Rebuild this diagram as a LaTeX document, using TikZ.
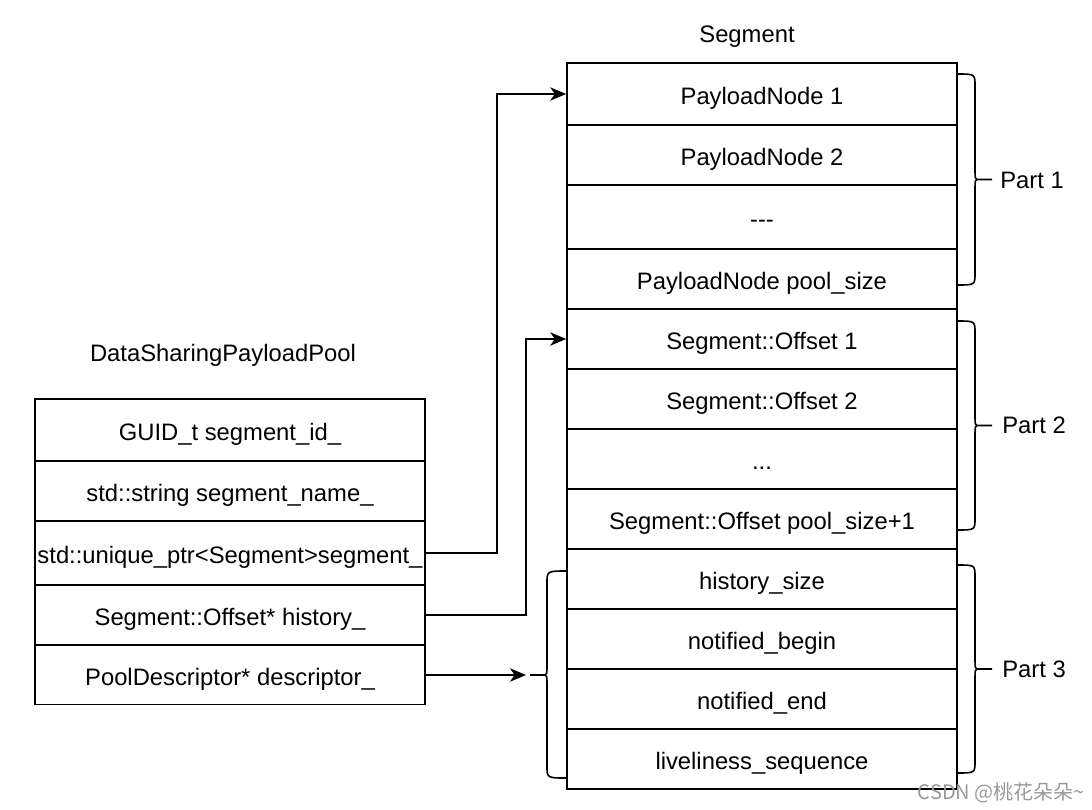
\documentclass[tikz,border=0pt]{standalone}
\usepackage{fontspec}
\setmainfont{Liberation Sans}
\newfontfamily\cjkfont{Noto Sans CJK SC}
\usetikzlibrary{arrows.meta}
\tikzset{
  cell/.style={draw, line width=1.2pt, minimum width=292.5pt, inner sep=0pt, text height=16.2pt, text depth=0pt, font=\fontsize{17.85}{21}\selectfont},
  title/.style={font=\fontsize{17.85}{21}\selectfont, inner sep=0pt, anchor=base},
  lbl/.style={font=\fontsize{17.85}{21}\selectfont, anchor=base west, inner sep=0pt},
  arr/.style={line width=1.2pt, -{Stealth[length=12pt,width=10pt,inset=3.5pt]}},
  brace/.style={line width=1.2pt}
}
\newcommand{\BraceRt}[4]{% x0, ytop, ybot, ymid
  \draw[brace] (#1,#2) .. controls ({#1+18},#2) .. ({#1+18},{#2+12}) -- ({#1+18},{#4-12}) .. controls ({#1+18},#4) .. ({#1+22},#4) -- ({#1+35},#4)
    ({#1+22},#4) .. controls ({#1+18},#4) .. ({#1+18},{#4+12}) -- ({#1+18},{#3-12}) .. controls ({#1+18},#3) .. (#1,#3);}
\newcommand{\BraceLt}[4]{% x0, ytop, ybot, ymid
  \draw[brace] (#1,#2) .. controls ({#1-20},#2) .. ({#1-20},{#2+12}) -- ({#1-20},{#4-12}) .. controls ({#1-20},#4) .. ({#1-24},#4) -- ({#1-37},#4)
    ({#1-24},#4) .. controls ({#1-20},#4) .. ({#1-20},{#4+12}) -- ({#1-20},{#3-12}) .. controls ({#1-20},#3) .. (#1,#3);}
\begin{document}
\begin{tikzpicture}[x=0.75pt, y=-0.75pt]
\useasboundingbox (0,0) rectangle (1092,810);
% titles
\node[title] (segtitle) at (747,42.5) {Segment};
\node[title] (pooltitle) at (223,361.5) {DataSharingPayloadPool};
% segment table
\node[cell, minimum height=46.5pt] (S1) at (762,94) {PayloadNode 1};
\node[cell, minimum height=45pt] (S2) at (762,155) {PayloadNode 2};
\node[cell, minimum height=48pt] (S3) at (762,217) {-{}-{}-};
\node[cell, minimum height=45pt] (S4) at (762,279) {PayloadNode pool\_size};
\node[cell, minimum height=45pt] (S5) at (762,339) {Segment::Offset 1};
\node[cell, minimum height=45pt] (S6) at (762,399) {Segment::Offset 2};
\node[cell, minimum height=45pt] (S7) at (762,459) {...};
\node[cell, minimum height=45pt] (S8) at (762,519) {Segment::Offset pool\_size+1};
\node[cell, minimum height=45pt] (S9) at (762,579) {history\_size};
\node[cell, minimum height=45pt] (S10) at (762,639) {notified\_begin};
\node[cell, minimum height=45pt] (S11) at (762,699) {notified\_end};
\node[cell, minimum height=45pt] (S12) at (762,759) {liveliness\_sequence};
% pool table
\node[cell, minimum height=46.5pt] (L1) at (230,430) {GUID\_t segment\_id\_};
\node[cell, minimum height=45pt] (L2) at (230,491) {std::string segment\_name\_};
\node[cell, minimum height=48pt] (L3) at (230,553) {std::unique\_ptr<Segment>segment\_};
\node[cell, minimum height=45pt] (L4) at (230,615) {Segment::Offset* history\_};
\node[cell, minimum height=44.25pt] (L5) at (230,675) {PoolDescriptor* descriptor\_};
% braces
\BraceRt{957}{74}{285}{179.5}
\BraceRt{957}{321}{530}{425.5}
\BraceRt{957}{565}{773}{669}
\BraceLt{567}{571}{778}{675}
\coordinate (b3tip) at (530,675);
\node[lbl] (p1) at (1000,188.5) {Part 1};
\node[lbl] (p2) at (1002,433.5) {Part 2};
\node[lbl] (p3) at (1002,677.5) {Part 3};
% connectors
\draw[arr] (L3.east) -- ++(71,0) |- (S1.west);
\draw[arr] (L4.east) -- ++(100,0) |- (S5.west);
\draw[arr, shorten >=3pt] (L5.east) -- (b3tip);
% watermark
\node[anchor=east, inner sep=0pt, text=black!40, font=\cjkfont\fontsize{15}{17}\selectfont] (wm) at (1085,793) {CSDN @桃花朵朵\textasciitilde};
\end{tikzpicture}
\end{document}
